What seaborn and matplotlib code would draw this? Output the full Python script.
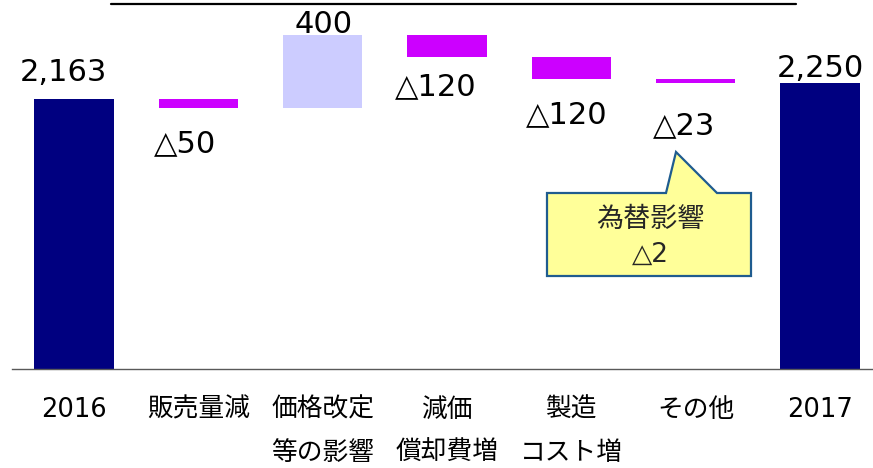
import numpy as np
import pandas as pd
import matplotlib
matplotlib.use("Agg")
import matplotlib.pyplot as plt
import seaborn as sns
from matplotlib.patches import Polygon
from matplotlib.lines import Line2D

# ---------------- data ----------------
categories = ["2016", "販売量減", "価格改定\n等の影響", "減価\n償却費増",
              "製造\nコスト増", "その他", "2017"]
start_value = 2163
deltas = [-50, 400, -120, -120, -23]
end_value = 2250
value_labels = ["2,163", "△50", "400", "△120", "△120", "△23", "2,250"]
callout_lines = ["為替影響", "△2"]

# ---------------- styles / positions ----------------
C_TOTAL = "#000080"
C_UP = "#CCCCFF"
C_DOWN = "#CC00FF"
W, H = 873, 468
# label offsets (pixels) relative to bar top (above) or bar bottom (below): (dx, dy_baseline, where)
label_offsets = [(-11, 18, "top"), (-13, -44, "bottom"), (1, 2, "top"),
                 (-11, -38, "bottom"), (-5, -44, "bottom"), (-11, -51, "bottom"),
                 (1, 6, "top")]

sns.set_style("white")
plt.rcParams["font.family"] = ["DejaVu Sans", "Noto Sans CJK JP"]

# derived waterfall geometry from data
levels = [start_value]
for d in deltas:
    levels.append(levels[-1] + d)
bottoms = [0] + [min(levels[i], levels[i + 1]) for i in range(len(deltas))] + [0]
heights = [start_value] + [abs(d) for d in deltas] + [end_value]
colors = [C_TOTAL] + [C_UP if d > 0 else C_DOWN for d in deltas] + [C_TOTAL]

df = pd.DataFrame({"category": categories, "height": heights})

fig = plt.figure(figsize=(W / 100, H / 100), dpi=100)
ax = fig.add_axes([12 / W, 99 / H, 870 / W, 369 / H])

sns.barplot(data=df, x="category", y="height", order=categories,
            bottom=bottoms, width=0.64, color=C_TOTAL, saturation=1,
            errorbar=None, linewidth=0, ax=ax)
for p, c in zip(ax.patches, colors):
    p.set_facecolor(c)
    p.set_edgecolor(c)

ax.set_ylim(684, 2705)
ax.set_xlim(-0.5, len(categories) - 0.5)
ax.set_xlabel("")
ax.set_ylabel("")
ax.set_yticks([])
for s in ["top", "left", "right"]:
    ax.spines[s].set_visible(False)
ax.spines["bottom"].set_color("#595959")
ax.spines["bottom"].set_linewidth(1.0)

ax.set_xticks(np.arange(-0.5, len(categories), 1), minor=True)
ax.tick_params(axis="x", which="minor", direction="in", length=6,
               color="#595959", width=1)
ax.tick_params(axis="x", which="major", length=0, pad=20, labelsize=18.5,
               labelcolor="black")
for t in ax.get_xticklabels():
    t.set_linespacing(1.85)

# value labels
tops = [start_value] + [max(levels[i], levels[i + 1]) for i in range(len(deltas))] + [end_value]
lows = bottoms
for i, (txt, (dx, dy, where)) in enumerate(zip(value_labels, label_offsets)):
    anchor = tops[i] if where == "top" else lows[i]
    ax.annotate(txt, xy=(i, anchor), xytext=(dx * 0.72, dy * 0.72),
                textcoords="offset points", ha="center", va="baseline",
                fontsize=22, color="black")

# callout box
def fp(x, y):
    return (x / W, 1 - y / H)

pts = [fp(547, 193), fp(666, 193), fp(676, 152), fp(717, 193),
       fp(751, 193), fp(751, 276), fp(547, 276)]
fig.add_artist(Polygon(pts, closed=True, facecolor="#FFFF99",
                       edgecolor="#1F5C8F", linewidth=1.6,
                       transform=fig.transFigure))
x0, y0 = fp(650, 220)
fig.text(x0, y0, callout_lines[0], ha="center", va="center", fontsize=19.5)
x1, y1 = fp(650, 262)
fig.text(x1, y1, callout_lines[1], ha="center", va="baseline", fontsize=19)

# cropped title underline
fig.add_artist(Line2D([111 / W, 796 / W], [1 - 4 / H, 1 - 4 / H],
                      color="black", linewidth=1.6, transform=fig.transFigure))

fig.savefig("out.png", dpi=100)
